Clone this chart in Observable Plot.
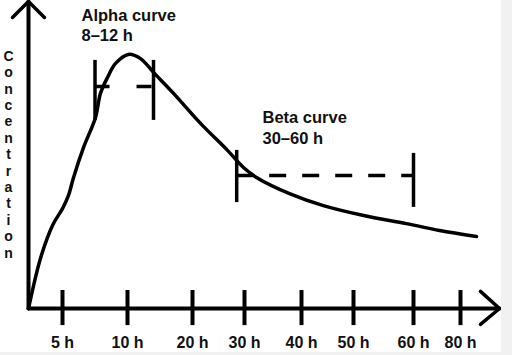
<!DOCTYPE html>
<html><head><meta charset="utf-8">
<script src="https://cdn.jsdelivr.net/npm/d3@7"></script>
<script src="https://cdn.jsdelivr.net/npm/@observablehq/plot@0.6"></script>
<style>
body{margin:0;background:#f1f1f1;}
#chart svg{display:block;background:#fff;}
</style>
</head><body><div id="chart"></div>
<script>
// Tick positions (hours) and labels
const tickHours = [5, 10, 20, 30, 40, 50, 60, 80];
const tickLabels = ["5 h", "10 h", "20 h", "30 h", "40 h", "50 h", "60 h", "80 h"];
// Concentration curve (hours, arbitrary units 0–100)
const curveHours = [0, 1.76, 3.53, 5, 5.46, 5.85, 6.62, 7.54, 7.92, 8.46, 9.08, 10.15, 12, 14, 17.08, 21.54, 26.73, 29.8, 32.1, 37.9, 44.2, 51.7, 58.8, 71.1, 86.8];
const curveConc  = [0, 16.7, 27.7, 33.3, 37.7, 43.7, 53.7, 63.7, 71.7, 77, 81.7, 84.7, 83.3, 78.7, 71.7, 61.7, 52.7, 47, 43.7, 38.3, 34.3, 31, 28.3, 26, 24];
// Phase windows
const alphaWindow = [7.5, 14];
const betaWindow = [28.5, 60];
const annotations = ["Alpha curve", "8–12 h", "Beta curve", "30–60 h"];
const yLabel = "Concentration";

const curve = curveHours.map((h, i) => ({h, c: curveConc[i]}));
const font = "Liberation Sans, Arial, Helvetica, sans-serif";

const chart = Plot.plot({
  width: 501, height: 352,
  margin: 0,
  x: {type: "linear", domain: [0, 5, 10, 20, 30, 40, 50, 60, 80], range: [28, 62, 127, 192, 244, 301, 353, 413, 460]},
  y: {domain: [0, 100], range: [308, 8]},
  axis: null,
  style: {fontFamily: font, background: "#fff"},
  marks: [
    // axes with arrowheads
    Plot.line([{h: 0, c: 0}, {h: 96.6, c: 0}], {x: "h", y: "c", stroke: "#000", strokeWidth: 4}),
    Plot.line([{h: 0, c: 0}, {h: 0, c: 102.3}], {x: "h", y: "c", stroke: "#000", strokeWidth: 4}),
    Plot.line([{h: 88.5, c: 5.7}, {h: 96.6, c: 0}, {h: 88.5, c: -5.3}], {x: "h", y: "c", stroke: "#000", strokeWidth: 3.5, strokeLinejoin: "miter"}),
    Plot.line([{h: -2.35, c: 97}, {h: 0, c: 102.3}, {h: 2.35, c: 97}], {x: "h", y: "c", stroke: "#000", strokeWidth: 3.5, strokeLinejoin: "miter"}),
    // ticks
    Plot.ruleX(tickHours, {y1: -5.7, y2: 6, stroke: "#000", strokeWidth: 4}),
    Plot.text(tickHours, {x: d => d, y: -13.3, text: (d, i) => tickLabels[i], fontSize: 16, fontWeight: "bold", fill: "#111", lineAnchor: "bottom"}),
    // curve
    Plot.line(curve, {x: "h", y: "c", curve: "catmull-rom", stroke: "#000", strokeWidth: 3.5}),
    // alpha window
    Plot.ruleX(alphaWindow, {y1: 62.7, y2: 82.7, stroke: "#000", strokeWidth: 3.5}),
    Plot.ruleY([74], {x1: alphaWindow[0], x2: alphaWindow[1], stroke: "#000", strokeWidth: 3.5, strokeDasharray: "15,27"}),
    // beta window
    Plot.ruleX([betaWindow[0]], {y1: 35.3, y2: 52.7, stroke: "#000", strokeWidth: 3.5}),
    Plot.ruleX([betaWindow[1]], {y1: 33.7, y2: 51.7, stroke: "#000", strokeWidth: 3.5}),
    Plot.ruleY([44.3], {x1: betaWindow[0], x2: betaWindow[1], stroke: "#000", strokeWidth: 3.5, strokeDasharray: "17,16"}),
    // annotations
    Plot.text([annotations[0]], {x: 6.46, y: 95.7, text: d => d, textAnchor: "start", lineAnchor: "bottom", fontSize: 16.5, fontWeight: "bold", fill: "#111"}),
    Plot.text([annotations[1]], {x: 6.46, y: 89.3, text: d => d, textAnchor: "start", lineAnchor: "bottom", fontSize: 16.5, fontWeight: "bold", fill: "#111"}),
    Plot.text([annotations[2]], {x: 33.16, y: 61.7, text: d => d, textAnchor: "start", lineAnchor: "bottom", fontSize: 16.5, fontWeight: "bold", fill: "#111"}),
    Plot.text([annotations[3]], {x: 33.16, y: 55, text: d => d, textAnchor: "start", lineAnchor: "bottom", fontSize: 16.5, fontWeight: "bold", fill: "#111"}),
    // y label, stacked letters
    Plot.text([yLabel.split("").join("\n")], {x: -2.94, y: 51.5, text: d => d, lineAnchor: "middle", lineHeight: 1.17, fontSize: 14, fontWeight: "bold", fill: "#111"})
  ]
});
document.getElementById("chart").appendChild(chart);
</script>
</body></html>
